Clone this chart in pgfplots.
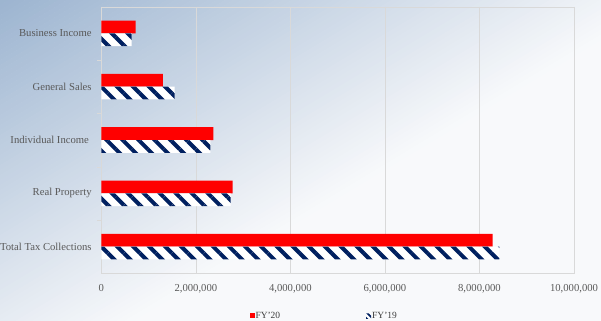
\documentclass[border=0pt]{standalone}
\usepackage{fontspec}
\setmainfont{Liberation Serif}
\usepackage{pgfplots}
\pgfplotsset{compat=1.18}
\usetikzlibrary{patterns.meta}
\definecolor{navy}{HTML}{002060}
\definecolor{bgstart}{HTML}{9CB4D0}
\definecolor{bgend}{HTML}{F8F9FB}
\definecolor{gridc}{HTML}{D9D9D9}
\definecolor{labc}{HTML}{595959}
\definecolor{legc}{HTML}{3A3A3A}
\begin{document}
\begin{tikzpicture}
\useasboundingbox (0,0) rectangle (601bp,321bp);
\clip (0,0) rectangle (601bp,321bp);
\fill[bgend] (0,0) rectangle (601bp,321bp);
\begin{scope}[shift={(0bp,321bp)}, rotate=31]
\foreach \i in {0,...,79} {
  \pgfmathsetmacro{\pc}{100-1.25*(\i+0.5)}
  \pgfmathsetmacro{\ya}{-4.2875*(\i+1)-0.4}
  \pgfmathsetmacro{\yb}{-4.2875*\i}
  \fill[bgstart!\pc!bgend] (-1000bp,\ya bp) rectangle (1000bp,\yb bp);
}
\end{scope}
\begin{axis}[
  at={(101.3bp,47.7bp)}, anchor=south west,
  scale only axis, width=472.7bp, height=266.6bp,
  xbar, bar width=0.24,
  xmin=0, xmax=10000000,
  ymin=-0.5, ymax=4.5, y dir=reverse,
  ytick={0,1,2,3,4},
  yticklabels={Business Income, General Sales, Individual Income\kern0.25em, Real Property, Total Tax Collections},
  minor ytick={0.5,1.5,2.5,3.5},
  ytick pos=left, xtick pos=bottom,
  xtick={0,2000000,4000000,6000000,8000000,10000000},
  scaled x ticks=false,
  /pgf/number format/fixed,
  /pgf/number format/1000 sep={,},
  /pgf/number format/assume math mode=true,
  major tick length=0pt, minor tick length=4bp, tick align=outside,
  tick style={draw=gridc},
  axis line style={draw=gridc},
  xmajorgrids, major grid style={draw=gridc},
  yticklabel style={font=\fontsize{10.7}{12}\selectfont, text=labc, inner sep=0pt, xshift=-9.5bp},
  xticklabel style={font=\fontsize{10.7}{12}\selectfont, text=labc, inner sep=0pt, yshift=-10.5bp},
  legend columns=2,
  legend style={at={(0.3131,-0.160)}, anchor=west, draw=none, fill=none,
    font=\fontsize{9.5}{11}\selectfont, text=legc, inner sep=0pt,
    nodes={inner sep=1bp},
    /tikz/every even column/.append style={column sep=85bp}},
]
\addplot[fill=red, draw=none, bar shift=-0.12,
  legend image code/.code={\fill[red] (0bp,-2.5bp) rectangle (5bp,2.5bp);}]
  coordinates {(727000,0) (1305000,1) (2370000,2) (2779000,3) (8280000,4)};
\addlegendentry{FY'20}
\addplot[fill=white, draw=none, bar shift=0.12,
  postaction={pattern={Lines[angle=-45,distance=11.3bp,line width=4bp]}, pattern color=navy},
  legend image code/.code={\fill[white] (0bp,-2.5bp) rectangle (5bp,2.5bp);
    \fill[navy] (0bp,2.5bp) -- (2.5bp,2.5bp) -- (5bp,0bp) -- (5bp,-2.5bp) -- cycle;}]
  coordinates {(643000,0) (1553000,1) (2306000,2) (2737000,3) (8420000,4)};
\addlegendentry{FY'19}
\end{axis}
\end{tikzpicture}
\end{document}
